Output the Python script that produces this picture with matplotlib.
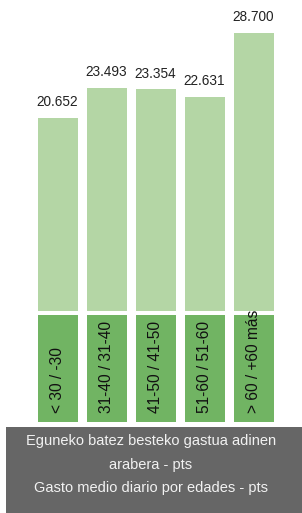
import matplotlib
matplotlib.use("Agg")
import matplotlib.pyplot as plt
from matplotlib.patches import Rectangle

plt.rcParams['font.family'] = ['Liberation Sans', 'DejaVu Sans']

categories = ["< 30 / -30", "31-40 / 31-40", "41-50 / 41-50", "51-60 / 51-60", "> 60 / +60 más"]
values = [20.652, 23.493, 23.354, 22.631, 28.700]
value_labels = ["20.652", "23.493", "23.354", "22.631", "28.700"]
title_lines = ["Eguneko batez besteko gastua adinen", "arabera - pts", "Gasto medio diario por edades - pts"]

W, H = 302, 513
fig = plt.figure(figsize=(W / 100, H / 100), dpi=100)
fig.patch.set_facecolor("white")

light = "#b4d6a5"
dark = "#71b463"

x = list(range(len(values)))
xlim = (-57.5 / 49, (302 - 57.5) / 49)
width = 40 / 49

# main bars
ax = fig.add_axes([0, (H - 310.7) / H, 1, 310.7 / H])
ax.bar(x, values, width=width, color=light, edgecolor="none")
ax.set_xlim(*xlim)
ax.set_ylim(2.38, 31.8)
ax.axis("off")
for xi, v, lab in zip(x, values, value_labels):
    ax.annotate(lab, (xi, v), xytext=(0, 6), textcoords="offset points",
                ha="center", va="bottom", fontsize=9.8, color="#222222")

# category boxes
ax2 = fig.add_axes([0, (H - 422) / H, 1, 107 / H])
ax2.bar(x, [1] * len(x), width=width, color=dark, edgecolor="none")
ax2.set_xlim(*xlim)
ax2.set_ylim(0, 1)
ax2.axis("off")
for xi, c in zip(x, categories):
    ax2.text(xi, (422 - 413) / 107, c, rotation=90, ha="center", va="bottom",
             fontsize=11.2, color="#111111", clip_on=False, zorder=5)

# title box
fig.patches.append(Rectangle((6 / W, 0), (W - 6) / W, (H - 427) / H,
                             transform=fig.transFigure, facecolor="#666666",
                             edgecolor="none", zorder=0))
for ly, line in zip([441, 464.5, 488], title_lines):
    fig.text(151 / W, (H - ly) / H, line, ha="center", va="center",
             fontsize=10.5, color="#f2f2f2")

fig.savefig("out.png", dpi=100)
